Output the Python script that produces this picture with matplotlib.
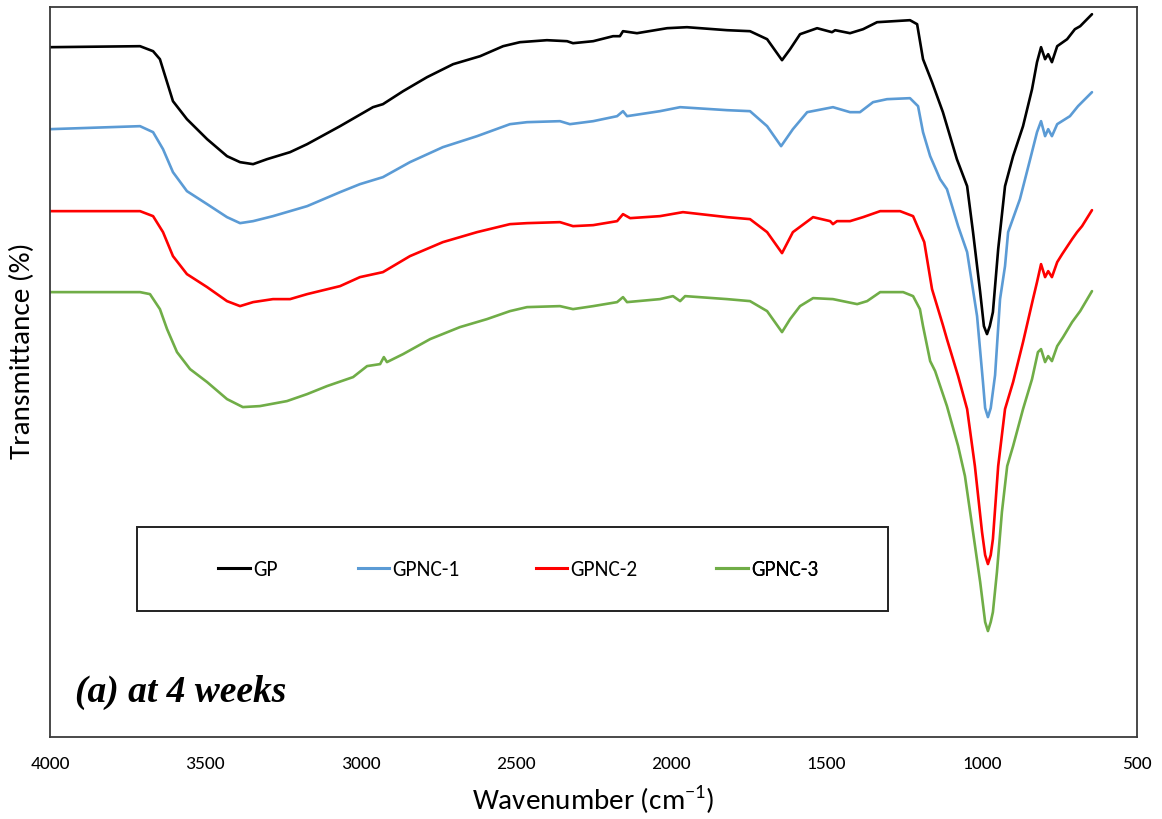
"""FTIR spectra of GP and GPNC samples at 4 weeks (offset transmittance)."""

import matplotlib
matplotlib.use("Agg")
import matplotlib.pyplot as plt
from matplotlib.lines import Line2D
from matplotlib.patches import Rectangle

SANS = ["Carlito", "Liberation Sans Narrow", "DejaVu Sans"]
SERIF = ["Liberation Serif", "DejaVu Serif"]

# Wavenumber (cm-1) and transmittance (arbitrary offset units)
GP_WN = [4000, 3710, 3668, 3646, 3623, 3604, 3559, 3494, 3430, 3388, 3346, 3301,
         3227, 3172, 3066, 2960, 2928, 2863, 2786, 2702, 2615, 2541, 2487, 2400,
         2335, 2316, 2251, 2187, 2165, 2155, 2110, 2013, 1949, 1820, 1746, 1691,
         1643, 1617, 1585, 1530, 1482, 1472, 1424, 1382, 1337, 1231, 1208, 1189,
         1160, 1125, 1080, 1047, 1028, 1005, 993, 983, 974, 964, 947, 925, 899,
         867, 838, 822, 809, 796, 786, 774, 757, 725, 700, 683, 645]
GP_T = [690, 691, 686, 678, 655, 636, 618, 598, 581, 575, 573, 578,
        585, 593, 611, 630, 633, 646, 660, 673, 681, 691, 695, 697,
        696, 694, 696, 701, 701, 706, 704, 709, 710, 707, 706, 698,
        677, 688, 703, 709, 705, 707, 704, 708, 715, 717, 713, 678,
        655, 625, 578, 551, 505, 445, 411, 403, 411, 425, 488, 551, 581,
        611, 648, 675, 690, 678, 683, 675, 691, 698, 708, 711, 723]

GPNC1_WN = [4000, 3710, 3668, 3636, 3604, 3559, 3494, 3430, 3388, 3346, 3282,
            3172, 3066, 3002, 2928, 2841, 2735, 2625, 2519, 2464, 2358, 2326,
            2251, 2174, 2155, 2142, 2036, 1971, 1820, 1746, 1691, 1646, 1608,
            1562, 1479, 1424, 1392, 1350, 1305, 1231, 1205, 1189, 1166, 1134,
            1112, 1076, 1047, 1015, 996, 989, 980, 971, 957, 941, 925, 915, 877,
            844, 822, 809, 796, 786, 774, 757, 716, 690, 645]
GPNC1_T = [608, 611, 605, 588, 565, 546, 533, 520, 514, 516, 521,
           531, 545, 553, 560, 575, 590, 601, 613, 615, 616, 613,
           616, 621, 626, 621, 626, 630, 627, 626, 611, 591, 608,
           625, 630, 625, 625, 635, 638, 639, 631, 605, 581, 558,
           548, 511, 485, 421, 355, 329, 320, 329, 362, 438, 471, 505, 538,
           578, 605, 616, 601, 608, 601, 613, 621, 631, 645]

GPNC2_WN = [4000, 3710, 3668, 3636, 3604, 3559, 3494, 3430, 3388, 3346, 3282,
            3227, 3172, 3066, 3002, 2928, 2841, 2735, 2625, 2519, 2464, 2358,
            2316, 2251, 2174, 2155, 2132, 2036, 1962, 1820, 1746, 1691, 1643,
            1608, 1543, 1488, 1479, 1466, 1424, 1382, 1327, 1263, 1221, 1185,
            1160, 1125, 1112, 1076, 1047, 1022, 999, 989, 980, 971, 964, 947,
            925, 899, 867, 835, 822, 809, 796, 786, 774, 757, 741, 709, 693,
            677, 645]
GPNC2_T = [526, 526, 521, 505, 481, 463, 450, 436, 431, 435, 438,
           438, 443, 451, 460, 465, 481, 495, 505, 513, 514, 515,
           511, 512, 516, 523, 519, 521, 525, 520, 518, 505, 484,
           505, 520, 516, 513, 516, 516, 520, 526, 526, 521, 495,
           448, 412, 398, 361, 328, 271, 205, 182, 173, 182, 198, 271,
           328, 355, 395, 438, 455, 473, 460, 466, 460, 475, 483, 498, 505,
           511, 527]

GPNC3_WN = [4000, 3710, 3678, 3646, 3623, 3591, 3549, 3494, 3430, 3379, 3324,
            3237, 3172, 3108, 3024, 2979, 2937, 2925, 2915, 2863, 2776, 2680,
            2593, 2519, 2464, 2358, 2316, 2251, 2174, 2155, 2142, 2036, 1994,
            1971, 1955, 1820, 1746, 1691, 1643, 1617, 1585, 1543, 1479, 1401,
            1369, 1327, 1253, 1221, 1199, 1189, 1166, 1150, 1112, 1076, 1054,
            1028, 1005, 989, 980, 971, 964, 951, 935, 918, 899, 867, 838, 819,
            809, 796, 786, 774, 757, 738, 709, 683, 645]
GPNC3_T = [445, 445, 443, 428, 408, 385, 368, 355, 338, 330, 331,
           336, 343, 351, 360, 371, 373, 380, 375, 383, 398, 410,
           418, 426, 430, 431, 428, 431, 435, 440, 435, 438, 441,
           436, 441, 438, 436, 426, 405, 418, 431, 439, 438, 433,
           436, 445, 445, 441, 428, 411, 376, 366, 331, 291, 261,
           205, 155, 115, 106, 115, 125, 165, 225, 271, 291, 328, 358, 385,
           388, 375, 381, 376, 391, 400, 415, 426, 446]

SERIES = [
    ("GP", GP_WN, GP_T, "#000000"),
    ("GPNC-1", GPNC1_WN, GPNC1_T, "#5B9BD5"),
    ("GPNC-2", GPNC2_WN, GPNC2_T, "#FF0000"),
    ("GPNC-3", GPNC3_WN, GPNC3_T, "#70AD47"),
]

# legend entry anchors (axes fraction) for the Excel-style evenly spaced layout
LEGEND_X = [0.155, 0.283, 0.447, 0.613]
LEGEND_Y = 0.230

fig = plt.figure(figsize=(11.62, 8.20), dpi=100)
ax = fig.add_axes([0.043, 0.100, 0.9355, 0.890])

for name, wn, t, color in SERIES:
    ax.plot(wn, t, color=color, lw=1.9, label=name,
            solid_joinstyle="round", solid_capstyle="round")

ax.set_xlim(4000, 500)
ax.set_ylim(0, 730)
ax.set_xticks(range(4000, 499, -500))
ax.set_yticks([])
ax.tick_params(axis="x", length=0, pad=13, labelsize=14)
for lab in ax.get_xticklabels():
    lab.set_family(SANS)
for sp in ax.spines.values():
    sp.set_color("#3a3a3a")
    sp.set_linewidth(1.3)

ax.set_xlabel("Wavenumber (cm$^{\\mathregular{-1}}$)", fontsize=21, family=SANS)
ax.xaxis.set_label_coords(0.50, -0.062)
ax.set_ylabel("Transmittance (%)", fontsize=21, family=SANS)
ax.yaxis.set_label_coords(-0.014, 0.53)

# legend: framed box with four evenly spaced entries
ax.add_patch(Rectangle((0.080, 0.173), 0.691, 0.115, transform=ax.transAxes,
                       fill=False, edgecolor="#222222", lw=1.4, zorder=5))
for (name, _, _, color), lx in zip(SERIES, LEGEND_X):
    handle = Line2D([], [], color=color, lw=2.2)
    leg = ax.legend(handles=[handle], labels=[name], loc="center left",
                    bbox_to_anchor=(lx, LEGEND_Y), frameon=False,
                    handlelength=1.45, handletextpad=0.15, borderpad=0,
                    borderaxespad=0, prop={"family": SANS, "size": 15.5})
    ax.add_artist(leg)

ax.text(0.023, 0.062, "(a) at 4 weeks", transform=ax.transAxes, va="center",
        ha="left", fontsize=27, fontweight="bold", fontstyle="italic", family=SERIF)

fig.savefig("out.png", dpi=100)
